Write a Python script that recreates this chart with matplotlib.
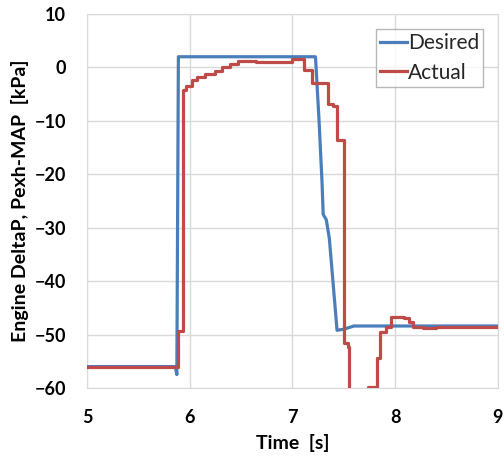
import numpy as np
import matplotlib
matplotlib.use('Agg')
import matplotlib.pyplot as plt

plt.rcParams['font.family'] = ['Lato', 'DejaVu Sans']

# desired DeltaP trace (linear segments)
desired_t = [5.0, 5.86, 5.875, 5.89, 7.225, 7.26, 7.29, 7.30, 7.33, 7.36, 7.435, 7.5, 7.6, 9.0]
desired_v = [-56, -56, -57.5, 2, 2, -10, -22, -27.5, -28.5, -32, -49.2, -49, -48.4, -48.4]

# actual DeltaP trace (step values)
actual_t = [5.0, 5.888, 5.937, 5.96, 6.02, 6.07, 6.15, 6.245, 6.31, 6.39, 6.47, 6.65,
            6.85, 7.0, 7.11, 7.19, 7.35, 7.40, 7.43, 7.50, 7.54, 7.555, 7.74, 7.82,
            7.85, 7.915, 7.96, 8.09, 8.14, 8.17, 8.27, 8.4, 9.0]
actual_v = [-56, -49.3, -4.3, -3.4, -2.4, -1.8, -1.2, -0.7, 0, 0.7, 1.2, 1.0,
            1.1, 1.6, -0.4, -3.0, -6.8, -7.2, -13.6, -51.6, -52.3, -66, -59.8, -54.4,
            -49.5, -48.5, -46.7, -46.9, -47.6, -48.5, -48.8, -48.5, -48.5]

x_ticks = [5, 6, 7, 8, 9]
y_ticks = [-60, -50, -40, -30, -20, -10, 0, 10]

fig = plt.figure(figsize=(5.04, 4.61), dpi=100)
ax = fig.add_axes([0.1726, 0.1584, 0.815, 0.8112])

ax.plot(desired_t, desired_v, color='#4a7ebb', lw=2.3, label='Desired', zorder=3)
ax.plot(actual_t, actual_v, color='#be4b48', lw=2.3, drawstyle='steps-post',
        label='Actual', zorder=4)

ax.set_xlim(5, 9)
ax.set_ylim(-60, 10)
ax.set_xticks(x_ticks)
ax.set_yticks(y_ticks)
ax.grid(True, color='#d9d9d9', lw=1)
ax.set_axisbelow(True)
for s in ax.spines.values():
    s.set_color('#d9d9d9')
ax.tick_params(length=0, pad=15, labelsize=13)
for lab in ax.get_xticklabels() + ax.get_yticklabels():
    lab.set_fontweight('bold')

ax.set_xlabel('Time  [s]', fontsize=14, fontweight='bold', labelpad=6)
ax.set_ylabel('Engine DeltaP, Pexh-MAP  [kPa]', fontsize=14, fontweight='bold', labelpad=4)

leg = ax.legend(loc='upper right', bbox_to_anchor=(0.965, 0.96), fontsize=15,
                handlelength=1.3, handletextpad=0.05, frameon=True, fancybox=False,
                borderpad=0.2, labelspacing=0.45, borderaxespad=0)
leg.get_frame().set_edgecolor('#a6a6a6')
leg.get_frame().set_linewidth(1)
for txt in leg.get_texts():
    txt.set_color('#262626')

fig.savefig('out.png', dpi=100)
